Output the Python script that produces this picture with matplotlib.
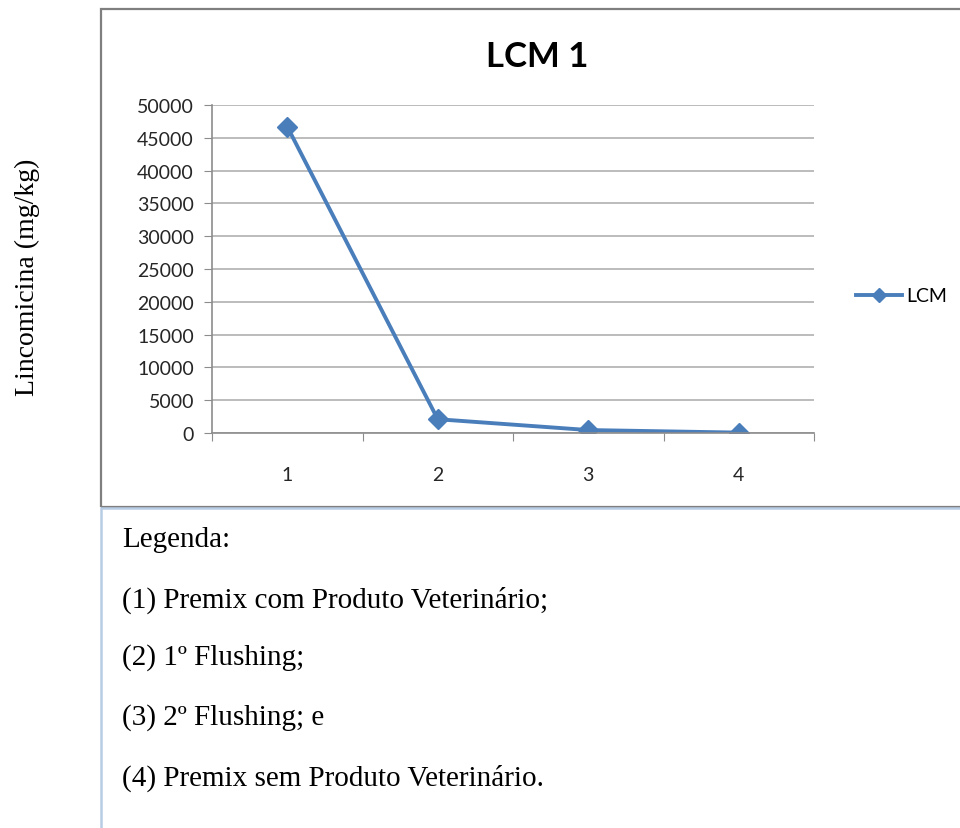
import matplotlib
matplotlib.use("Agg")
import matplotlib.pyplot as plt
from matplotlib.patches import Rectangle
from matplotlib.lines import Line2D

amostras = [1, 2, 3, 4]
lcm = [46700, 2100, 450, 60]
yticks = [0, 5000, 10000, 15000, 20000, 25000, 30000, 35000, 40000, 45000, 50000]
legenda = ["Legenda:",
           "(1) Premix com Produto Veterinário;",
           "(2) 1º Flushing;",
           "(3) 2º Flushing; e",
           "(4) Premix sem Produto Veterinário."]

W, H = 960, 829
fig = plt.figure(figsize=(9.6, 8.29), dpi=100)

# chart frame and legend text frame
fig.patches.append(Rectangle((101/W, 1-508/H), 1.0, 498/H, transform=fig.transFigure,
                             fill=False, edgecolor="#7f7f7f", linewidth=1.6, clip_on=False))
fig.patches.append(Rectangle((101/W, -0.05), 1.0, 1-509/H+0.05, transform=fig.transFigure,
                             fill=False, edgecolor="#b8cce4", linewidth=1.8, clip_on=False))

ax = fig.add_axes([212/W, 1-434/H, (814-212)/W, (434-106)/H])
ax.plot(amostras, lcm, color="#4a7ebb", linewidth=2.8, marker="D", markersize=10, label="LCM")
ax.set_xlim(0.5, 4.5)
ax.set_ylim(0, 50000)
ax.set_yticks(yticks)
ax.set_yticklabels([str(v) for v in yticks])
ax.set_xticks([0.5, 1.5, 2.5, 3.5, 4.5])
ax.set_xticklabels([])
ax.set_xticks(amostras, minor=True)
ax.set_xticklabels([str(a) for a in amostras], minor=True)
ax.tick_params(axis="x", which="minor", length=0, pad=24)
ax.tick_params(axis="x", which="major", length=6, color="#8c8c8c", direction="out")
ax.tick_params(axis="y", length=6, color="#8c8c8c", pad=7)
for lab in ax.get_xticklabels(minor=True) + ax.get_yticklabels():
    lab.set_fontfamily("Lato")
    lab.set_fontsize(14)
    lab.set_color("#262626")
ax.grid(axis="y", color="#b0b0b0", linewidth=1.2)
ax.set_axisbelow(True)
for s in ["top", "right"]:
    ax.spines[s].set_visible(False)
ax.spines["left"].set_color("#8c8c8c")
ax.spines["bottom"].set_color("#8c8c8c")
ax.spines["left"].set_linewidth(1.2)
ax.spines["bottom"].set_linewidth(1.2)

fig.text(537/W, 1-57/H, "LCM 1", ha="center", va="center", fontsize=25,
         fontweight="bold", family="Lato")

leg = fig.legend(handles=[Line2D([], [], color="#4a7ebb", linewidth=2.8, marker="D",
                                 markersize=7, label="LCM")],
                 loc="center left", bbox_to_anchor=(838/W, 1-297/H), frameon=False,
                 prop={"family": "Lato", "size": 14}, handlelength=2.4, handletextpad=0.2)

fig.text(27/W, 1-277/H, "Lincomicina (mg/kg)", rotation=90, ha="center", va="center",
         fontsize=20, family="Liberation Serif")

ys = [540, 600, 658, 718, 778]
for t, y in zip(legenda, ys):
    fig.text(122/W, 1-y/H, t, ha="left", va="center", fontsize=21, family="Liberation Serif")

fig.savefig("out.png", dpi=100)
